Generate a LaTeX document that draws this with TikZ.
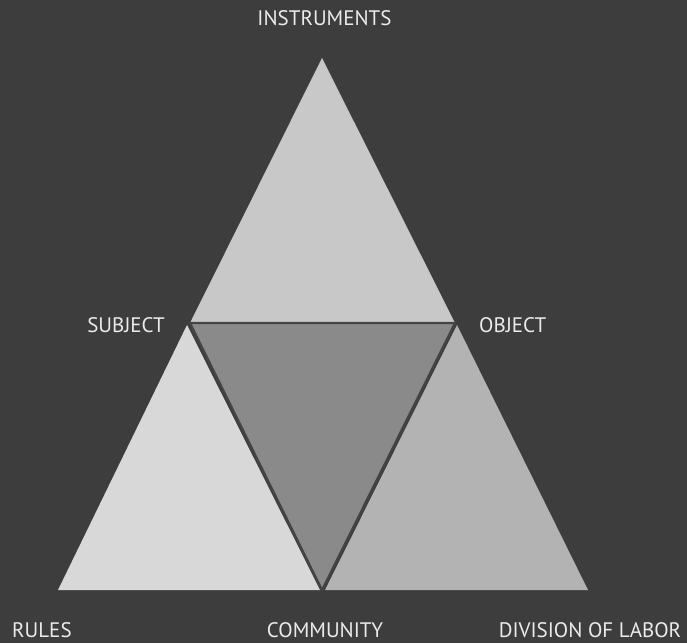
\documentclass[tikz,border=0pt]{standalone}
\usepackage{fontspec}
\setmainfont{PT Sans}
\definecolor{bg}{HTML}{3D3D3D}
\definecolor{topc}{HTML}{C8C8C8}
\definecolor{leftc}{HTML}{D8D8D8}
\definecolor{rightc}{HTML}{B3B3B3}
\definecolor{midc}{HTML}{8A8A8A}
\definecolor{edgec}{HTML}{444444}
\begin{document}
\begin{tikzpicture}[x=1pt,y=-1pt,
  lbl/.style={text=white!92!black,font=\fontsize{21}{24}\selectfont,inner sep=0pt}]
\fill[bg] (0,0) rectangle (687,643);
\useasboundingbox (0,0) rectangle (687,643);
% top triangle
\coordinate (t1) at (322,58);
\coordinate (t2) at (190,323);
\coordinate (t3) at (455,323);
\fill[topc] (t1) -- (t2) -- (t3) -- cycle;
% left triangle
\coordinate (l1) at (187,325);
\coordinate (l2) at (58,590);
\coordinate (l3) at (320,590);
\fill[leftc] (l1) -- (l2) -- (l3) -- cycle;
% right triangle
\coordinate (r1) at (457,325);
\coordinate (r2) at (325,590);
\coordinate (r3) at (588,590);
\fill[rightc] (r1) -- (r2) -- (r3) -- cycle;
% middle triangle
\coordinate (m3) at (322,590);
\filldraw[fill=midc,draw=edgec,line width=2.2pt,line join=miter] (t2) -- (t3) -- (m3) -- cycle;
% labels
\node[lbl] (instr) at (324.5,18) {INSTRUMENTS};
\node[lbl,anchor=east] (subj) at (165,325) {SUBJECT};
\node[lbl,anchor=west] (obj) at (479,325) {OBJECT};
\node[lbl,anchor=west] (rules) at (12,630) {RULES};
\node[lbl] (comm) at (325,630) {COMMUNITY};
\node[lbl] (div) at (590,630) {DIVISION OF LABOR};
\end{tikzpicture}
\end{document}
